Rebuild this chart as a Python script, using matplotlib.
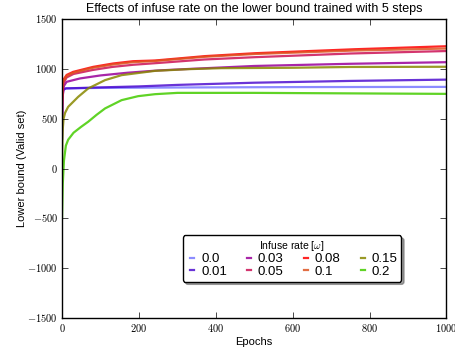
import matplotlib
matplotlib.use("Agg")
from matplotlib import pyplot as plt
from matplotlib.ticker import FuncFormatter

plt.style.use("classic")
plt.rcParams["figure.facecolor"] = "white"
plt.rcParams["mathtext.fontset"] = "cm"
plt.rcParams["font.family"] = ["Liberation Sans", "DejaVu Sans"]

# values (epoch -> lower bound), one list per infuse rate
rates = ["0.0", "0.01", "0.03", "0.05", "0.08", "0.1", "0.15", "0.2"]
colors = ["#1a1aff", "#4400cc", "#990099", "#cc1155", "#ff0000", "#dd5522", "#888800", "#44cc00"]
alphas = [0.5, 0.8, 0.85, 0.85, 0.85, 0.85, 0.85, 0.85]

ep_00 = [0, 1, 3, 10, 100, 300, 600, 1000]
lb_00 = [300, 700, 790, 805, 810, 814, 818, 820]
ep_01 = [0, 1, 3, 10, 100, 200, 300, 500, 750, 1000]
lb_01 = [300, 700, 790, 805, 815, 825, 840, 862, 880, 893]
ep_03 = [0, 1, 5, 12, 47, 100, 170, 250, 330, 500, 750, 1000]
lb_03 = [400, 700, 830, 871, 905, 935, 962, 985, 1000, 1030, 1052, 1068]
ep_05 = [0, 1, 4, 12, 30, 80, 130, 185, 250, 370, 500, 750, 1000]
lb_05 = [500, 780, 860, 915, 950, 990, 1020, 1042, 1060, 1095, 1118, 1155, 1180]
ep_08 = [0, 1, 3, 12, 29, 81, 133, 185, 242, 372, 502, 762, 1000]
lb_08 = [650, 820, 888, 940, 971, 1021, 1055, 1078, 1085, 1129, 1158, 1198, 1228]
ep_10 = [0, 1, 3, 12, 29, 81, 133, 185, 242, 372, 502, 762, 1000]
lb_10 = [600, 800, 875, 930, 962, 1012, 1045, 1068, 1080, 1122, 1150, 1185, 1205]
ep_15 = [0, 1, 2, 4, 8, 16, 42, 68, 112, 155, 242, 328, 415, 600, 750, 1000]
lb_15 = [50, 280, 400, 500, 560, 620, 720, 804, 888, 938, 981, 998, 1008, 1012, 1020, 1022]
ep_20 = [0, 2, 5, 10, 16, 30, 50, 68, 90, 112, 155, 198, 242, 300, 500, 750, 1000]
lb_20 = [-500, -150, 80, 230, 290, 360, 420, 470, 540, 604, 687, 727, 747, 760, 760, 755, 750]

epochs = [ep_00, ep_01, ep_03, ep_05, ep_08, ep_10, ep_15, ep_20]
bounds = [lb_00, lb_01, lb_03, lb_05, lb_08, lb_10, lb_15, lb_20]

fig = plt.figure(figsize=(4.56, 3.48), dpi=100)
ax = fig.add_axes([0.136, 0.086, 0.843, 0.859])
for rate, c, a, x, y in zip(rates, colors, alphas, epochs, bounds):
    ax.plot(x, y, color=c, alpha=a, lw=1.6, label=rate)

ax.set_xlim(0, 1000)
ax.set_ylim(-1500, 1500)
ax.set_xticks([0, 200, 400, 600, 800, 1000])
ax.set_yticks([-1500, -1000, -500, 0, 500, 1000, 1500])
tex_fmt = FuncFormatter(lambda v, pos: f"${v:g}$")
ax.xaxis.set_major_formatter(tex_fmt)
ax.yaxis.set_major_formatter(tex_fmt)
ax.tick_params(labelsize=7.5, pad=3)
ax.set_title("Effects of infuse rate on the lower bound trained with 5 steps", fontsize=9)
ax.set_xlabel("Epochs", fontsize=8, labelpad=2)
ax.set_ylabel("Lower bound (Valid set)", fontsize=8, labelpad=0)
leg = ax.legend(
    title=r"Infuse rate [$\omega$]",
    ncol=4,
    loc="lower center",
    bbox_to_anchor=(0.598, 0.1),
    fontsize=9.5,
    handlelength=0.9,
    handletextpad=0.2,
    columnspacing=1.25,
    labelspacing=0.0,
    borderpad=0.3,
    fancybox=True,
    shadow=True,
)
leg.get_title().set_fontsize(7.5)
plt.savefig("out.png", dpi=100)
